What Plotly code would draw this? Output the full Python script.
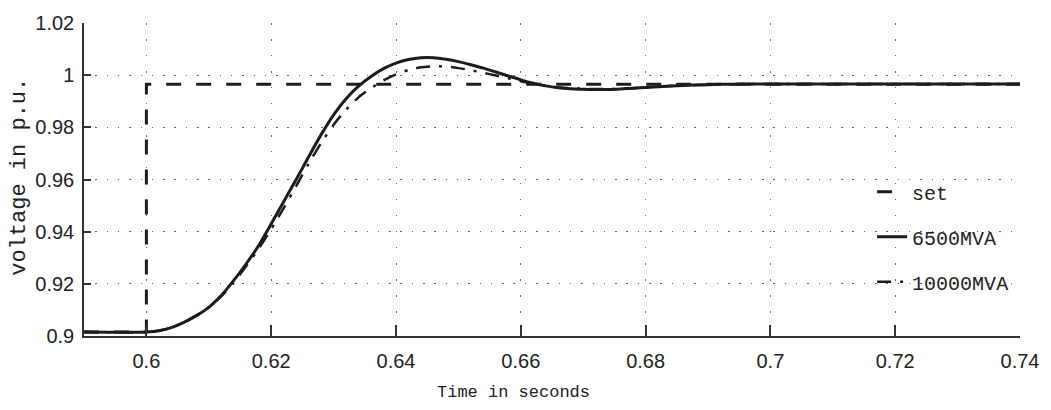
import plotly.graph_objects as go

# ---- data ----
t_set = [0.59, 0.60, 0.60, 0.74]
v_set = [0.9015, 0.9015, 0.9965, 0.9965]

t = [0.590, 0.600, 0.602, 0.604, 0.606, 0.608, 0.610, 0.612, 0.614, 0.616,
     0.618, 0.620, 0.622, 0.624, 0.626, 0.628, 0.630, 0.632, 0.634, 0.636,
     0.638, 0.640, 0.642, 0.644, 0.646, 0.648, 0.650, 0.652, 0.654, 0.656,
     0.658, 0.660, 0.662, 0.664, 0.666, 0.668, 0.670, 0.672, 0.674, 0.676,
     0.678, 0.680, 0.684, 0.688, 0.692, 0.696, 0.700, 0.740]

v_6500 = [0.9015, 0.9015, 0.9020, 0.9032, 0.9052, 0.9078, 0.9110, 0.9155, 0.9213, 0.9277,
          0.9347, 0.9430, 0.9515, 0.9600, 0.9687, 0.9772, 0.9848, 0.9910, 0.9958, 0.9995,
          1.0025, 1.0046, 1.0060, 1.0067, 1.0067, 1.0061, 1.0052, 1.0040, 1.0027, 1.0012,
          0.9997, 0.9982, 0.9969, 0.9959, 0.9952, 0.9948, 0.9946, 0.9945, 0.9945, 0.9947,
          0.9950, 0.9953, 0.9958, 0.9962, 0.9965, 0.9966, 0.9966, 0.9966]

v_10000 = [0.9015, 0.9015, 0.9020, 0.9032, 0.9052, 0.9078, 0.9110, 0.9152, 0.9205, 0.9268,
           0.9335, 0.9410, 0.9490, 0.9575, 0.9660, 0.9740, 0.9810, 0.9868, 0.9915, 0.9950,
           0.9980, 1.0003, 1.0020, 1.0030, 1.0034, 1.0033, 1.0027, 1.0019, 1.0009, 0.9999,
           0.9988, 0.9977, 0.9967, 0.9959, 0.9953, 0.9950, 0.9948, 0.9947, 0.9947, 0.9948,
           0.9950, 0.9953, 0.9958, 0.9962, 0.9965, 0.9966, 0.9966, 0.9966]

x_ticks = [0.6, 0.62, 0.64, 0.66, 0.68, 0.7, 0.72, 0.74]
x_labels = ["0.6", "0.62", "0.64", "0.66", "0.68", "0.7", "0.72", "0.74"]
y_ticks = [0.9, 0.92, 0.94, 0.96, 0.98, 1.0, 1.02]
y_labels = ["0.9", "0.92", "0.94", "0.96", "0.98", "1", "1.02"]

INK = "#1c1c1c"
TICKFONT = dict(family="Liberation Sans, Arial", size=20, color="#222")
MONO = "Liberation Mono, Courier New, monospace"

fig = go.Figure()
fig.add_trace(go.Scatter(x=t_set, y=v_set, mode="lines", name="set", legendgroup="a",
                         line=dict(color=INK, width=3, dash="15px,15px")))
fig.add_trace(go.Scatter(x=t, y=v_6500, mode="lines", name="6500MVA", legendgroup="b",
                         line=dict(color=INK, width=3, shape="spline", smoothing=0.6)))
fig.add_trace(go.Scatter(x=t, y=v_10000, mode="lines", name="10000MVA", legendgroup="c",
                         line=dict(color=INK, width=2.5, dash="14px,9px,3px,9px",
                                   shape="spline", smoothing=0.6)))

fig.update_layout(
    width=1051, height=410,
    margin=dict(l=84, r=25, t=20, b=74),
    paper_bgcolor="white", plot_bgcolor="white",
    showlegend=True,
    legend=dict(x=0.842, y=0.523, xanchor="left", yanchor="top",
                bgcolor="rgba(0,0,0,0)", font=dict(family=MONO, size=20, color="#222"),
                tracegroupgap=16, traceorder="grouped"),
    xaxis=dict(range=[0.59, 0.74], tickvals=x_ticks, ticktext=x_labels,
               ticks="inside", ticklen=11, tickcolor="#333", tickwidth=1.5,
               showline=True, linecolor="#333", linewidth=1.5, mirror=False,
               zeroline=False, tickfont=TICKFONT, ticklabelstandoff=6,
               showgrid=True, gridcolor="#666", griddash="1.5px,14.5px", gridwidth=1.2),
    yaxis=dict(range=[0.9, 1.02], tickvals=y_ticks, ticktext=y_labels,
               ticks="inside", ticklen=7, tickcolor="#333", tickwidth=1.5,
               showline=True, linecolor="#333", linewidth=1.5, mirror=False,
               zeroline=False, tickfont=TICKFONT, ticklabelstandoff=4,
               showgrid=True, gridcolor="#666", griddash="1.5px,9.8px", gridwidth=1.2),
    annotations=[
        dict(text="Time in seconds", xref="paper", yref="paper", x=0.4586, y=-0.18,
             xanchor="center", yanchor="middle", showarrow=False,
             font=dict(family=MONO, size=17, color="#222")),
        dict(text="voltage in p.u.", xref="paper", yref="paper", x=-0.069, y=0.51,
             xanchor="center", yanchor="middle", textangle=-90, showarrow=False,
             font=dict(family=MONO, size=22, color="#222")),
    ],
)

fig.write_html("out.html")
